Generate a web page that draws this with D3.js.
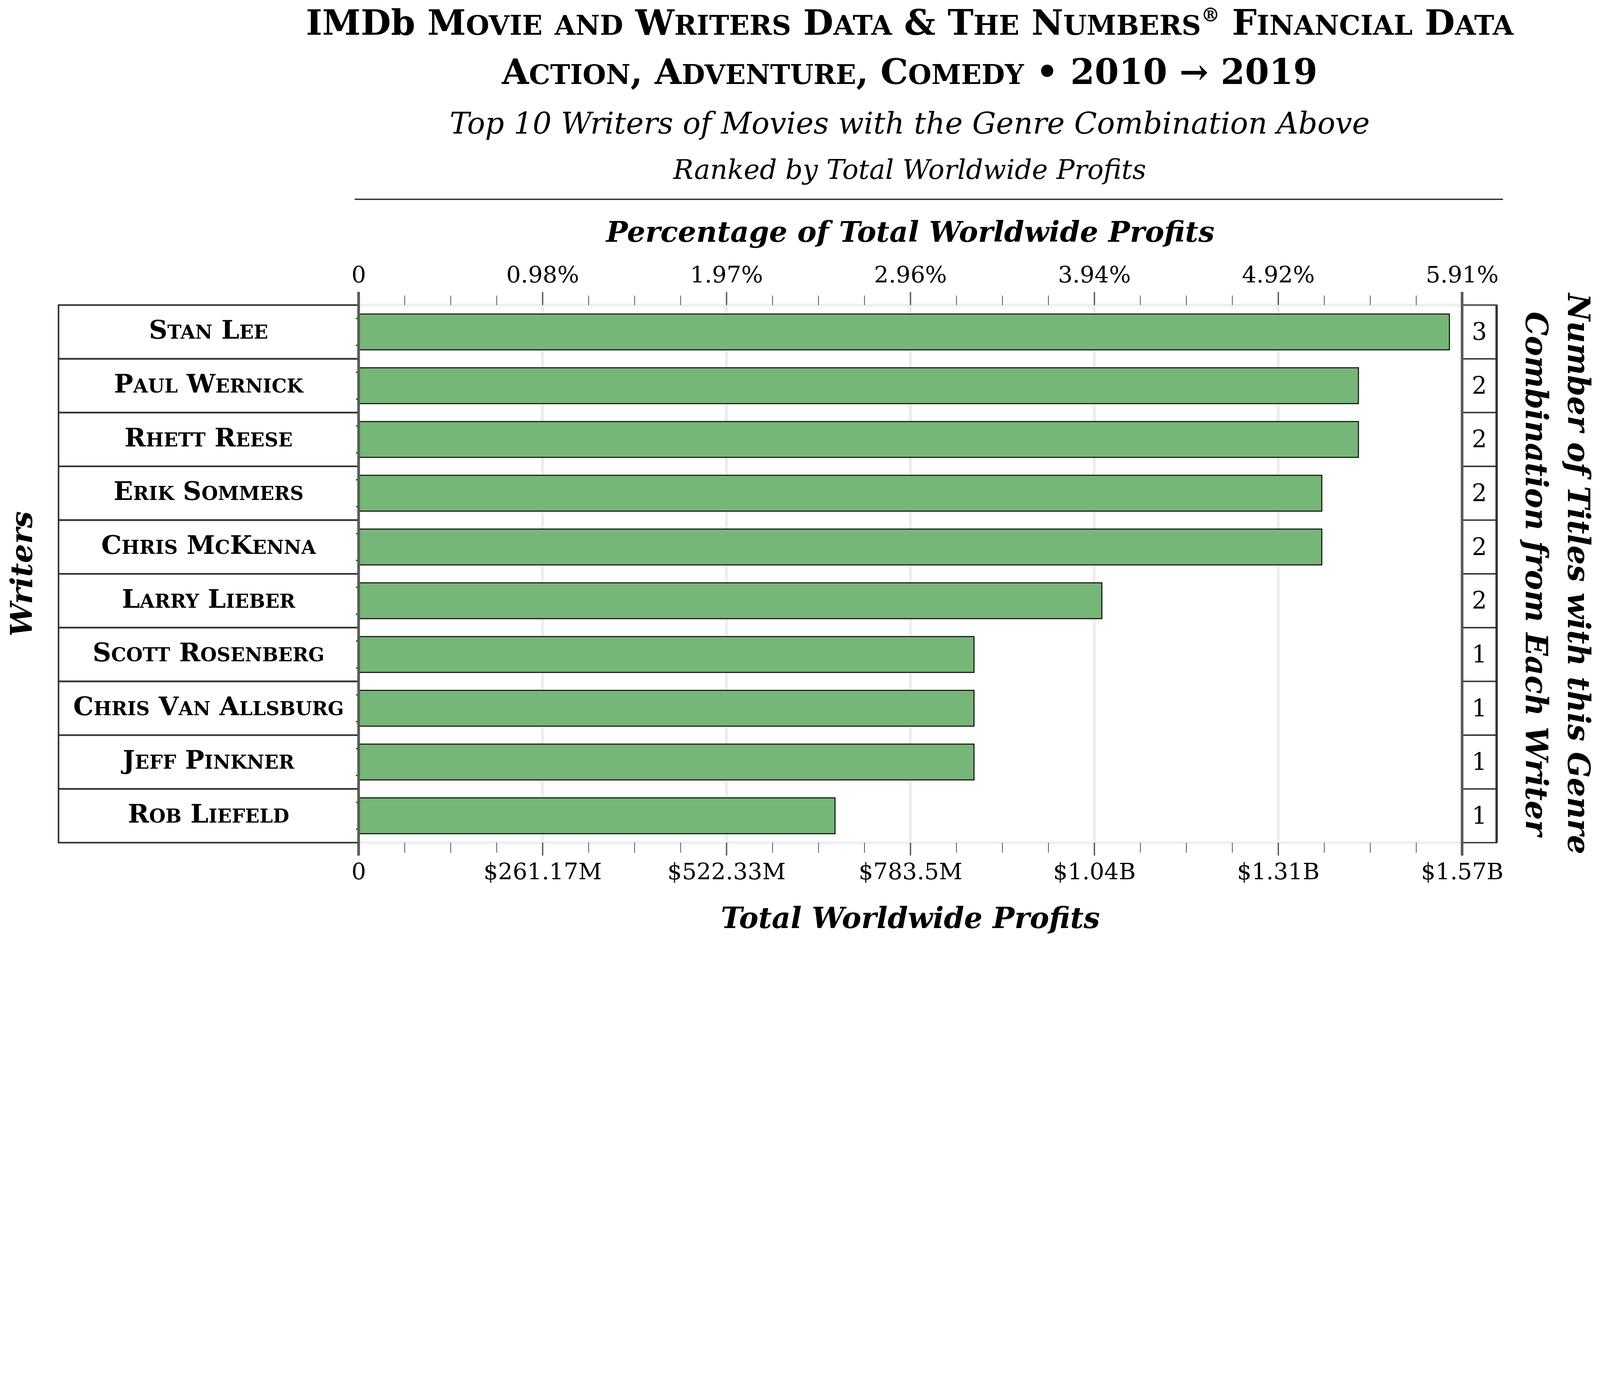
<!DOCTYPE html>
<html>
<head>
<meta charset="utf-8">
<script src="https://cdn.jsdelivr.net/npm/d3@7"></script>
<style>
  html, body { margin: 0; padding: 0; background: #fff; }
  svg { display: block; width: 100%; height: auto; }
</style>
</head>
<body>
<svg id="chart"></svg>
<script>
// values
const writers = ["Stan Lee", "Paul Wernick", "Rhett Reese", "Erik Sommers", "Chris McKenna",
  "Larry Lieber", "Scott Rosenberg", "Chris Van Allsburg", "Jeff Pinkner", "Rob Liefeld"];
const profits = [1549.0e6, 1419.8e6, 1419.8e6, 1367.8e6, 1367.8e6, 1055.5e6, 873.9e6, 873.9e6, 873.9e6, 676.6e6];
const titleCounts = [3, 2, 2, 2, 2, 2, 1, 1, 1, 1];
const profitMax = 1567.0e6;
const profitTickLabels = ["0", "$261.17M", "$522.33M", "$783.5M", "$1.04B", "$1.31B", "$1.57B"];
const percentTickLabels = ["0", "0.98%", "1.97%", "2.96%", "3.94%", "4.92%", "5.91%"];

const width = 6068, height = 3574;
const serif = "'DejaVu Serif', serif";
const plotLeft = 1360, plotRight = 5545, plotTop = 1157, plotBottom = 3196;
const tableLeft = 222, countRight = 5676;
const cx = (plotLeft + plotRight) / 2;

const svg = d3.select("#chart")
    .attr("viewBox", [0, 0, width, height])
    .attr("preserveAspectRatio", "xMidYMin meet")
    .attr("font-family", serif);

svg.append("rect").attr("width", width).attr("height", height).attr("fill", "#fff");

// small caps by hand: lowercase runs become smaller capitals
function smallCaps(text, str, size, ratio) {
  str.match(/[a-z]+|[^a-z]+/g).forEach(run => {
    const lower = /^[a-z]/.test(run);
    text.append("tspan")
        .attr("font-size", lower ? size * ratio : size)
        .text(lower ? run.toUpperCase() : run);
  });
}

const x = d3.scaleLinear().domain([0, profitMax]).range([plotLeft, plotRight]);
const y = d3.scaleBand().domain(writers).range([plotTop, plotBottom]).paddingInner(1/3).paddingOuter(1/6);
const rows = d3.scaleBand().domain(writers).range([plotTop, plotBottom]);

const major = d3.range(7).map(i => profitMax * i / 6);
const minor = d3.range(25).map(i => profitMax * i / 24).filter((d, i) => i % 4 != 0);

// ---- titles
const titleSize = 132;
const t1 = svg.append("text").attr("x", 3450).attr("y", 132)
    .attr("text-anchor", "middle").attr("font-size", titleSize).attr("font-weight", "bold");
t1.append("tspan").text("IMDb ");
smallCaps(t1, "Movie and Writers Data & The Numbers", titleSize, 0.77);
t1.append("tspan").attr("font-size", 72).attr("dy", -50).text("®");
t1.append("tspan").attr("dy", 50).text(" ");
smallCaps(t1, "Financial Data", titleSize, 0.77);

const t2 = svg.append("text").attr("x", 3450).attr("y", 318)
    .attr("text-anchor", "middle").attr("font-size", titleSize).attr("font-weight", "bold");
smallCaps(t2, "Action, Adventure, Comedy", titleSize, 0.77);
t2.append("tspan").text(" • 2010 → 2019");

svg.append("text").attr("x", 3450).attr("y", 507)
    .attr("text-anchor", "middle").attr("font-size", 113).attr("font-style", "italic")
    .text("Top 10 Writers of Movies with the Genre Combination Above");

svg.append("text").attr("x", 3450).attr("y", 679)
    .attr("text-anchor", "middle").attr("font-size", 102).attr("font-style", "italic")
    .text("Ranked by Total Worldwide Profits");

svg.append("line").attr("x1", 1345).attr("x2", 5700).attr("y1", 756).attr("y2", 756)
    .attr("stroke", "#333").attr("stroke-width", 5);

// ---- axis titles
svg.append("text").attr("x", cx).attr("y", 917)
    .attr("text-anchor", "middle").attr("font-size", 109)
    .attr("font-weight", "bold").attr("font-style", "italic")
    .text("Percentage of Total Worldwide Profits");

svg.append("text").attr("x", cx).attr("y", 3520)
    .attr("text-anchor", "middle").attr("font-size", 110)
    .attr("font-weight", "bold").attr("font-style", "italic")
    .text("Total Worldwide Profits");

svg.append("text")
    .attr("transform", `translate(121,${(plotTop + plotBottom) / 2}) rotate(-90)`)
    .attr("text-anchor", "middle").attr("font-size", 114)
    .attr("font-weight", "bold").attr("font-style", "italic")
    .text("Writers");

const rightTitle = ["Number of Titles with this Genre", "Combination from Each Writer"];
svg.selectAll(".right-title")
  .data(rightTitle)
  .join("text")
    .attr("class", "right-title")
    .attr("transform", (d, i) => `translate(${5947 - i * 161},${(plotTop + plotBottom) / 2}) rotate(90)`)
    .attr("text-anchor", "middle").attr("font-size", 115)
    .attr("font-weight", "bold").attr("font-style", "italic")
    .text(d => d);

// ---- grid
svg.append("g")
  .selectAll("line")
  .data(major)
  .join("line")
    .attr("x1", d => x(d)).attr("x2", d => x(d))
    .attr("y1", plotTop).attr("y2", plotBottom)
    .attr("stroke", "#ececec").attr("stroke-width", 10);

svg.append("g")
  .selectAll("line")
  .data([plotTop, plotBottom])
  .join("line")
    .attr("x1", plotLeft).attr("x2", plotRight)
    .attr("y1", d => d).attr("y2", d => d)
    .attr("stroke", "#f0f0f0").attr("stroke-width", 11);

// ---- axes
function styleAxis(g, w) {
  g.select(".domain").remove();
  g.attr("font-family", serif).attr("font-size", 87);
  g.selectAll(".tick line").attr("stroke", "#555").attr("stroke-width", w);
  g.selectAll(".tick text").attr("fill", "#000");
}

svg.append("g")
    .attr("transform", `translate(0,${plotTop})`)
    .call(d3.axisTop(x).tickValues(minor).tickFormat("").tickSize(36))
    .call(g => styleAxis(g, 3));
svg.append("g")
    .attr("transform", `translate(0,${plotTop})`)
    .call(d3.axisTop(x).tickValues(major).tickFormat((d, i) => percentTickLabels[i]).tickSize(50).tickPadding(36))
    .call(g => styleAxis(g, 5));

svg.append("g")
    .attr("transform", `translate(0,${plotBottom})`)
    .call(d3.axisBottom(x).tickValues(minor).tickFormat("").tickSize(38))
    .call(g => styleAxis(g, 3));
svg.append("g")
    .attr("transform", `translate(0,${plotBottom})`)
    .call(d3.axisBottom(x).tickValues(major).tickFormat((d, i) => profitTickLabels[i]).tickSize(49).tickPadding(28))
    .call(g => styleAxis(g, 5));

// ---- bars
svg.append("g")
  .selectAll("rect")
  .data(writers)
  .join("rect")
    .attr("x", x(0))
    .attr("y", d => y(d))
    .attr("width", (d, i) => x(profits[i]) - x(0))
    .attr("height", y.bandwidth())
    .attr("fill", "#76b676")
    .attr("stroke", "#111")
    .attr("stroke-width", 4);

// little ticks at the bar edges
svg.append("g")
  .selectAll("line")
  .data(writers.flatMap(d => [y(d) + 17, y(d) + y.bandwidth() - 17]))
  .join("line")
    .attr("x1", plotLeft - 10).attr("x2", plotLeft)
    .attr("y1", d => d).attr("y2", d => d)
    .attr("stroke", "#111").attr("stroke-width", 4);

// ---- writer name table
const nameRows = svg.append("g")
  .selectAll("g")
  .data(writers)
  .join("g")
    .attr("transform", d => `translate(0,${rows(d)})`);

nameRows.append("rect")
    .attr("x", tableLeft)
    .attr("width", plotLeft - tableLeft)
    .attr("height", rows.bandwidth())
    .attr("fill", "none")
    .attr("stroke", "#333")
    .attr("stroke-width", 6);

nameRows.append("text")
    .attr("x", (tableLeft + plotLeft) / 2)
    .attr("y", rows.bandwidth() / 2 + 26)
    .attr("text-anchor", "middle")
    .attr("font-size", 97)
    .attr("font-weight", "bold")
    .each(function(d) { smallCaps(d3.select(this), d, 97, 0.74); });

// ---- count table
const countRows = svg.append("g")
  .selectAll("g")
  .data(writers)
  .join("g")
    .attr("transform", d => `translate(0,${rows(d)})`);

countRows.append("rect")
    .attr("x", plotRight)
    .attr("width", countRight - plotRight)
    .attr("height", rows.bandwidth())
    .attr("fill", "none")
    .attr("stroke", "#333")
    .attr("stroke-width", 5);

countRows.append("text")
    .attr("x", (plotRight + countRight) / 2)
    .attr("y", rows.bandwidth() / 2 + 30)
    .attr("text-anchor", "middle")
    .attr("font-size", 90)
    .text((d, i) => titleCounts[i]);

svg.append("line")
    .attr("x1", countRight).attr("x2", countRight)
    .attr("y1", plotTop).attr("y2", plotBottom)
    .attr("stroke", "#333").attr("stroke-width", 9);

// ---- vertical axis lines on both sides of the plot
svg.append("g")
  .selectAll("line")
  .data([plotLeft, plotRight])
  .join("line")
    .attr("x1", d => d).attr("x2", d => d)
    .attr("y1", plotTop - 50).attr("y2", plotBottom + 49)
    .attr("stroke", "#595959").attr("stroke-width", 10);
</script>
</body>
</html>
